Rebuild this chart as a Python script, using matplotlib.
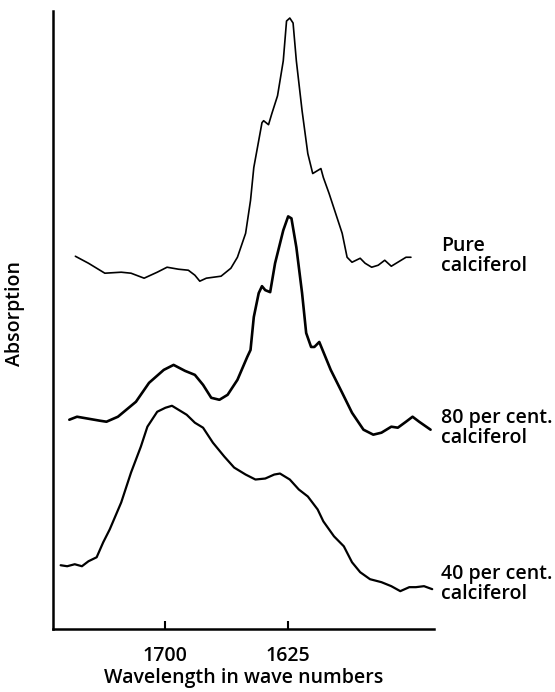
import matplotlib.pyplot as plt
import numpy as np

plt.rcParams['font.family'] = ['Open Sans', 'DejaVu Sans']
plt.rcParams['font.weight'] = 'semibold'
plt.rcParams['axes.labelweight'] = 'semibold'

# wave numbers (cm-1) and absorption (arbitrary units)
pure_wn = [1755, 1747, 1737, 1727, 1721, 1713, 1705, 1699, 1692, 1686, 1682, 1679,
           1675, 1666, 1660, 1656, 1651, 1648, 1646, 1643, 1641, 1640, 1637, 1635,
           1631.5, 1628, 1626, 1624, 1622, 1620, 1616.5, 1613, 1610, 1607, 1605,
           1603.5, 1600, 1596, 1592, 1589, 1586, 1581, 1578, 1574, 1570, 1566,
           1562, 1558, 1553, 1550]
pure_abs = [3.74, 3.67, 3.57, 3.58, 3.57, 3.52, 3.58, 3.63, 3.61, 3.60, 3.55, 3.49,
            3.52, 3.54, 3.62, 3.73, 3.97, 4.30, 4.63, 4.90, 5.08, 5.10, 5.06, 5.17,
            5.35, 5.70, 6.10, 6.13, 6.08, 5.70, 5.20, 4.77, 4.57, 4.60, 4.62,
            4.53, 4.37, 4.17, 3.97, 3.73, 3.68, 3.72, 3.67, 3.63, 3.65, 3.70,
            3.64, 3.68, 3.73, 3.73]

p80_wn = [1758.7, 1754, 1747, 1740, 1736, 1729, 1718, 1710, 1701, 1695, 1688, 1682,
          1677, 1672, 1667, 1662, 1656, 1650, 1648, 1646, 1643, 1641, 1639, 1636,
          1633, 1628, 1625, 1623, 1620, 1616.5, 1614, 1611, 1609, 1606, 1603.5,
          1599, 1592, 1586, 1579, 1573, 1568, 1562, 1558, 1553, 1549, 1545, 1538]
p80_abs = [2.10, 2.13, 2.11, 2.09, 2.08, 2.13, 2.28, 2.47, 2.60, 2.65, 2.59, 2.55,
           2.45, 2.32, 2.30, 2.35, 2.50, 2.73, 2.80, 3.13, 3.37, 3.44, 3.40, 3.38,
           3.67, 4.00, 4.14, 4.12, 3.83, 3.37, 2.97, 2.83, 2.83, 2.88, 2.78,
           2.60, 2.37, 2.17, 2.00, 1.95, 1.97, 2.03, 2.02, 2.08, 2.13, 2.08, 2.00]

p40_wn = [1764, 1760, 1755.4, 1751, 1747, 1742, 1738, 1734, 1727, 1721, 1715, 1711,
          1705, 1700, 1696, 1692, 1687, 1682, 1677, 1671, 1664, 1658, 1651, 1645,
          1639, 1633.5, 1630, 1624, 1618.5, 1613, 1607, 1603.5, 1597, 1591, 1586,
          1581, 1575, 1568, 1562, 1556.5, 1551, 1547, 1542, 1537]
p40_abs = [0.64, 0.63, 0.65, 0.63, 0.68, 0.72, 0.87, 1.00, 1.27, 1.57, 1.83, 2.03,
           2.18, 2.22, 2.24, 2.20, 2.15, 2.07, 2.02, 1.87, 1.73, 1.62, 1.55, 1.50,
           1.51, 1.55, 1.56, 1.50, 1.40, 1.33, 1.20, 1.08, 0.93, 0.83, 0.67,
           0.57, 0.50, 0.47, 0.43, 0.38, 0.42, 0.42, 0.43, 0.40]

labels = ["Pure\ncalciferol", "80 per cent.\ncalciferol", "40 per cent.\ncalciferol"]
label_y = [3.74, 2.02, 0.45]
tick_wn = [1700, 1625]

fig = plt.figure(figsize=(5.55, 6.92), dpi=100)
ax = fig.add_axes([0.096, 0.091, 0.686, 0.893])

line_kw = dict(color='black', solid_joinstyle='round', solid_capstyle='round')
ax.plot(pure_wn, pure_abs, lw=1.2, **line_kw)
ax.plot(p80_wn, p80_abs, lw=1.9, **line_kw)
ax.plot(p40_wn, p40_abs, lw=1.6, **line_kw)

for txt, y in zip(labels, label_y):
    ax.text(1531.6, y, txt, ha='left', va='center', fontsize=14,
            linespacing=1.0, clip_on=False)

ax.set_xlim(1768.5, 1535.9)
ax.set_ylim(0, 6.2)
ax.set_xticks(tick_wn)
ax.set_xticklabels([str(t) for t in tick_wn], fontsize=14)
ax.set_yticks([])
ax.tick_params(axis='x', direction='in', length=6, width=1.5, pad=12)
ax.spines['top'].set_visible(False)
ax.spines['right'].set_visible(False)
ax.spines['left'].set_linewidth(1.8)
ax.spines['bottom'].set_linewidth(1.8)

ax.set_xlabel("Wavelength in wave numbers", fontsize=14, labelpad=2)
ax.set_ylabel("Absorption", fontsize=14)
ax.yaxis.set_label_coords(-0.075, 0.51)

fig.savefig("out.png", dpi=100)
